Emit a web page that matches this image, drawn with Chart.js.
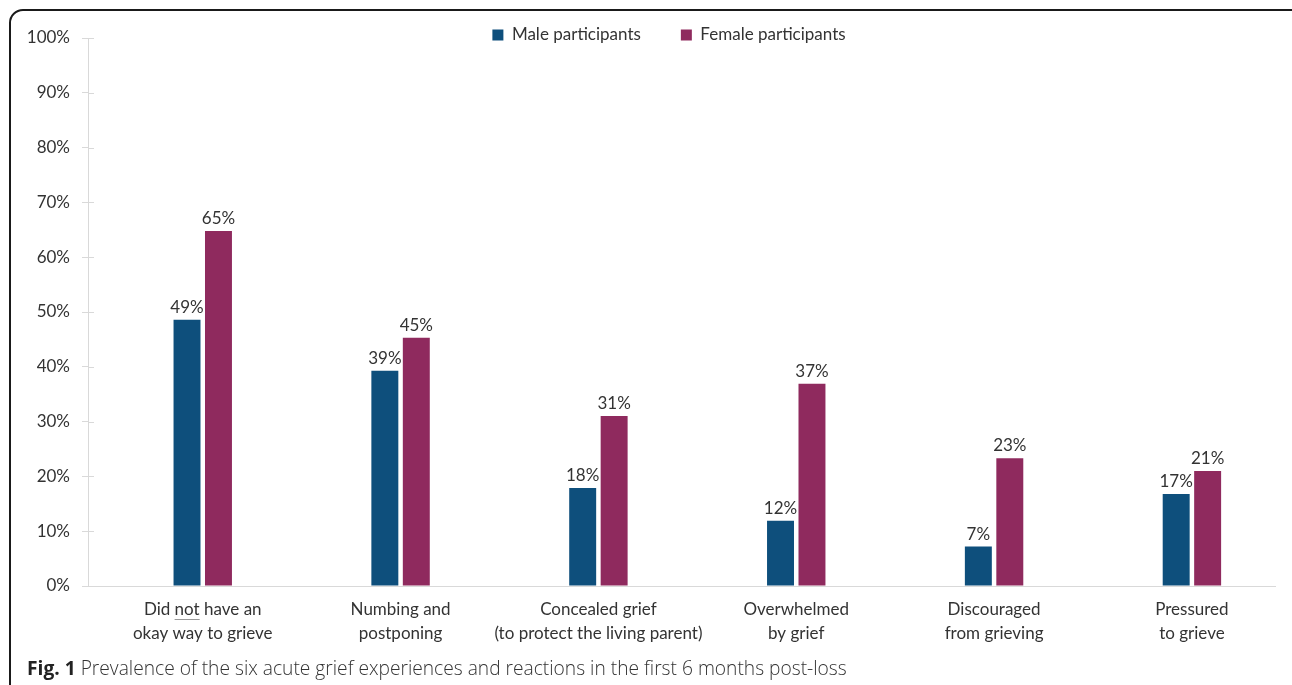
<!DOCTYPE html>
<html>
<head>
<meta charset="utf-8">
<script src="https://cdn.jsdelivr.net/npm/chart.js@4.4.1/dist/chart.umd.min.js"></script>
<style>
  html, body { margin: 0; padding: 0; background: #fff; overflow: hidden; width: 1292px; height: 685px; }
  #wrap { position: relative; width: 1292px; height: 685px; overflow: hidden; }
  #frame { position: absolute; left: 9px; top: 9px; width: 1300px; height: 700px; border: 2px solid #1a1a1a; border-radius: 14px; box-sizing: border-box; }
  #c { position: absolute; left: 0; top: 0; }
  #cap { position: absolute; left: 27px; top: 654px; font-family: "Open Sans", sans-serif; font-size: 19.2px; font-weight: 300; color: #333; white-space: nowrap; }
  #cap b { font-weight: 700; color: #222; }
</style>
</head>
<body>
<div id="wrap">
  <div id="frame"></div>
  <canvas id="c" width="1292" height="685"></canvas>
  <div id="cap"><b>Fig. 1</b> Prevalence of the six acute grief experiences and reactions in the first 6 months post-loss</div>
</div>
<script>
// ---- Data ----
const categories = [
  ["Did not have an", "okay way to grieve"],
  ["Numbing and", "postponing"],
  ["Concealed grief", "(to protect the living parent)"],
  ["Overwhelmed", "by grief"],
  ["Discouraged", "from grieving"],
  ["Pressured", "to grieve"]
];
const maleValues   = [48.6, 39.3, 17.9, 11.9, 7.2, 16.8];
const femaleValues = [64.8, 45.3, 31.0, 36.9, 23.3, 21.0];
const seriesNames  = ["Male participants", "Female participants"];
const yTicks = [0, 10, 20, 30, 40, 50, 60, 70, 80, 90, 100];

const MALE_COLOR = '#0e4f7c';
const FEMALE_COLOR = '#8f2a5e';
const TEXT_COLOR = '#333333';
const AXIS_COLOR = '#d9d9d9';
const FONT = 'Lato';

// legend: drawn in the top band without taking layout space
const legendPatch = {
  id: 'legendPatch',
  beforeUpdate(chart) {
    const lg = chart.legend;
    if (!lg || lg._patched) return;
    lg._patched = true;
    const fit = lg.fit;
    lg.fit = function () { fit.call(this); this._realH = this.height; this.height = 0; };
    const draw = lg.draw;
    lg.draw = function (area) {
      const saved = { t: this.top, b: this.bottom, h: this.height, l: this.left, r: this.right, w: this.width };
      const pad = this.options.labels.padding;
      const fs = 17;
      this.top = 35 - pad - fs / 2;
      this.height = this._realH;
      this.bottom = this.top + this._realH;
      this.left = 63; this.right = 1275; this.width = this.right - this.left;
      draw.call(this, area);
      this.top = saved.t; this.bottom = saved.b; this.height = saved.h;
      this.left = saved.l; this.right = saved.r; this.width = saved.w;
    };
  }
};

const valueLabels = {
  id: 'valueLabels',
  afterDatasetsDraw(chart) {
    const ctx = chart.ctx;
    ctx.save();
    ctx.font = '17px ' + FONT;
    ctx.fillStyle = TEXT_COLOR;
    ctx.textAlign = 'center';
    ctx.textBaseline = 'alphabetic';
    chart.data.datasets.forEach((ds, di) => {
      const meta = chart.getDatasetMeta(di);
      meta.data.forEach((el, i) => {
        const v = ds.data[i].y;
        ctx.fillText(Math.round(v) + '%', el.x, el.y - 7);
      });
    });
    ctx.restore();
  }
};

const extras = {
  id: 'extras',
  afterDraw(chart) {
    const ctx = chart.ctx;
    const ys = chart.scales.y, xs = chart.scales.x;
    ctx.save();
    // inner half of y tick marks
    ctx.strokeStyle = AXIS_COLOR;
    ctx.lineWidth = 1;
    ys.ticks.forEach(t => {
      const y = Math.round(ys.getPixelForValue(t.value)) + 0.5;
      ctx.beginPath();
      ctx.moveTo(ys.right, y);
      ctx.lineTo(ys.right + 6, y);
      ctx.stroke();
    });
    // underline "not" in first category label
    ctx.font = '17px ' + FONT;
    const line = categories[0][0];
    const w = ctx.measureText(line).width;
    const cx = xs.getPixelForValue(0);
    const start = cx - w / 2 + ctx.measureText('Did ').width;
    const nw = ctx.measureText('not').width;
    const uy = xs.top + 12 + 12 + 9.5;
    ctx.strokeStyle = '#9a9a9a';
    ctx.beginPath();
    ctx.moveTo(start, uy);
    ctx.lineTo(start + nw, uy);
    ctx.stroke();
    ctx.restore();
  }
};

new Chart(document.getElementById('c'), {
  type: 'bar',
  data: {
    datasets: [
      { label: seriesNames[0], data: maleValues.map((v, i) => ({ x: i, y: v })), backgroundColor: MALE_COLOR },
      { label: seriesNames[1], data: femaleValues.map((v, i) => ({ x: i, y: v })), backgroundColor: FEMALE_COLOR }
    ]
  },
  options: {
    responsive: false,
    animation: false,
    devicePixelRatio: 1,
    categoryPercentage: 0.318,
    barPercentage: 0.857,
    layout: { padding: { left: 10, right: 17, top: 38, bottom: 0 } },
    plugins: {
      legend: {
        position: 'top',
        labels: {
          boxWidth: 11, boxHeight: 11, padding: 40,
          color: TEXT_COLOR,
          font: { family: FONT, size: 17 }
        }
      },
      tooltip: { enabled: false }
    },
    scales: {
      x: {
        type: 'linear',
        bounds: 'data',
        offset: false,
        min: -0.58, max: 5.42,
        grid: { display: false, drawTicks: false, offset: false },
        border: { display: true, color: AXIS_COLOR },
        ticks: {
          padding: 12,
          maxRotation: 0,
          autoSkip: false,
          color: TEXT_COLOR,
          font: { family: FONT, size: 17, lineHeight: '24px' },
          callback: v => categories[v] || ''
        },
        afterBuildTicks(s) { s.ticks = categories.map((c, i) => ({ value: i })); },
        afterFit(s) { s.height = 99; }
      },
      y: {
        min: 0, max: 100,
        bounds: 'data',
        grid: { drawOnChartArea: false, tickLength: 6, color: AXIS_COLOR },
        border: { color: AXIS_COLOR },
        ticks: {
          padding: 12,
          autoSkip: false,
          color: TEXT_COLOR,
          font: { family: FONT, size: 17 },
          callback: v => v + '%'
        },
        afterBuildTicks(s) { s.ticks = yTicks.map(v => ({ value: v })); },
        afterFit(s) { s.width = 78; }
      }
    }
  },
  plugins: [legendPatch, valueLabels, extras]
});
</script>
</body>
</html>
